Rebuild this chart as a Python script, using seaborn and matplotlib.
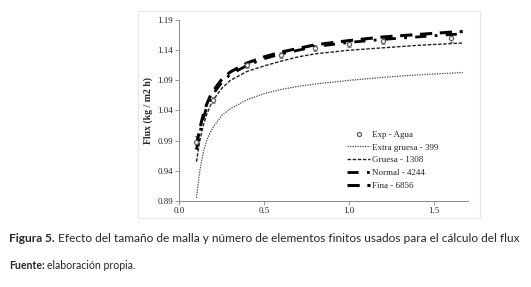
import matplotlib
matplotlib.use("Agg")
import matplotlib.pyplot as plt
import matplotlib.patches as patches
import pandas as pd
import seaborn as sns

# datos
x_sim = [0.1, 0.12, 0.14, 0.16, 0.18, 0.2, 0.25, 0.3, 0.4, 0.5, 0.6, 0.7, 0.8, 1.0, 1.2, 1.4, 1.6, 1.67]
extra_gruesa = [0.895, 0.94, 0.97, 0.99, 1.003, 1.013, 1.032, 1.043, 1.058, 1.068, 1.075, 1.080, 1.084, 1.090, 1.095, 1.099, 1.102, 1.103]
gruesa = [0.955, 0.99, 1.015, 1.033, 1.047, 1.058, 1.077, 1.090, 1.105, 1.114, 1.122, 1.129, 1.134, 1.140, 1.144, 1.148, 1.151, 1.152]
normal = [0.975, 1.003, 1.027, 1.045, 1.058, 1.068, 1.087, 1.100, 1.115, 1.126, 1.134, 1.140, 1.146, 1.153, 1.158, 1.162, 1.166, 1.167]
fina = [0.982, 1.010, 1.033, 1.050, 1.063, 1.073, 1.092, 1.104, 1.119, 1.129, 1.137, 1.143, 1.149, 1.156, 1.162, 1.166, 1.170, 1.171]

x_exp = [0.1, 0.2, 0.4, 0.6, 0.8, 1.0, 1.2, 1.6]
y_exp = [0.988, 1.057, 1.115, 1.132, 1.143, 1.150, 1.156, 1.160]
err_exp = [0.010, 0.005, 0.005, 0.005, 0.005, 0.005, 0.005, 0.006]

y_ticks = [0.89, 0.94, 0.99, 1.04, 1.09, 1.14, 1.19]
x_ticks = [0.0, 0.5, 1.0, 1.5]

sns.set_style("ticks")
plt.rcParams['font.family'] = ['Liberation Serif', 'DejaVu Serif']

fig = plt.figure(figsize=(5.31, 2.87), dpi=100)
ax = fig.add_axes([0.338, 0.300, 0.543, 0.630])

# marco gris del grafico
fig.patches.append(patches.Rectangle((138 / 531, 1 - 218 / 287), 342 / 531, 207 / 287,
                                     transform=fig.transFigure, fill=False,
                                     edgecolor='#e6e6e6', lw=0.8))

df = pd.DataFrame({'x': x_sim, 'eg': extra_gruesa, 'g': gruesa, 'n': normal, 'f': fina})

ax.errorbar(x_exp, y_exp, yerr=err_exp, fmt='none', ecolor='#8c8c8c', elinewidth=0.7, capsize=1.5, capthick=0.7)
sns.scatterplot(x=x_exp, y=y_exp, ax=ax, marker='o', s=9, color='white', edgecolor='#606060',
                linewidth=0.9, label='Exp - Agua', zorder=5)
sns.lineplot(data=df, x='x', y='eg', ax=ax, color='#444444', lw=0.9, label='Extra gruesa - 399')
ax.lines[-1].set_linestyle((0, (1, 1)))
sns.lineplot(data=df, x='x', y='g', ax=ax, color='#222222', lw=1.0, label='Gruesa - 1308')
ax.lines[-1].set_linestyle((0, (2.5, 1.2)))
sns.lineplot(data=df, x='x', y='n', ax=ax, color='black', lw=2.0, label='Normal - 4244')
ax.lines[-1].set_linestyle((0, (4, 3, 1, 3)))
sns.lineplot(data=df, x='x', y='f', ax=ax, color='black', lw=2.2, label='Fina - 6856')
ax.lines[-1].set_linestyle((0, (4, 2.5)))

ax.set_xlim(0, 1.7)
ax.set_ylim(0.89, 1.19)
ax.set_xticks(x_ticks)
ax.set_xticklabels(['0.0', '0.5', '1.0', '1.5'])
ax.set_yticks(y_ticks)
ax.set_yticklabels([f'{v:.2f}' for v in y_ticks])
ax.tick_params(labelsize=6.5, length=3, width=0.6, color='#888888', pad=1.5)
for s in ['left', 'bottom']:
    ax.spines[s].set_color('#888888')
    ax.spines[s].set_linewidth(0.7)
sns.despine(ax=ax)
ax.set_xlabel('')
ax.set_ylabel('Flux (kg / m2 h)', fontsize=7, fontweight='bold', labelpad=3)

ax.legend(loc='lower right', bbox_to_anchor=(0.92, 0.025), frameon=False, fontsize=6.5,
          handlelength=2.6, handletextpad=0.2, labelspacing=0.5, borderaxespad=0.3)

# pie de figura
cap_font = ['Lato', 'DejaVu Sans']
t1 = fig.text(9 / 531, 1 - 242 / 287, 'Figura 5.', fontsize=8.6, fontweight='bold', family=cap_font)
t3 = fig.text(9 / 531, 1 - 269 / 287, 'Fuente:', fontsize=7.6, fontweight='bold', family=cap_font)
fig.canvas.draw()
r = fig.canvas.get_renderer()
b1 = t1.get_window_extent(r)
b3 = t3.get_window_extent(r)
fig.text((b1.x1 + 3) / 531, 1 - 242 / 287,
         'Efecto del tamaño de malla y número de elementos finitos usados para el cálculo del flux',
         fontsize=8.6, family=cap_font)
fig.text((b3.x1 + 2) / 531, 1 - 269 / 287, 'elaboración propia.', fontsize=7.6, family=cap_font)

fig.savefig('out.png', dpi=100)
